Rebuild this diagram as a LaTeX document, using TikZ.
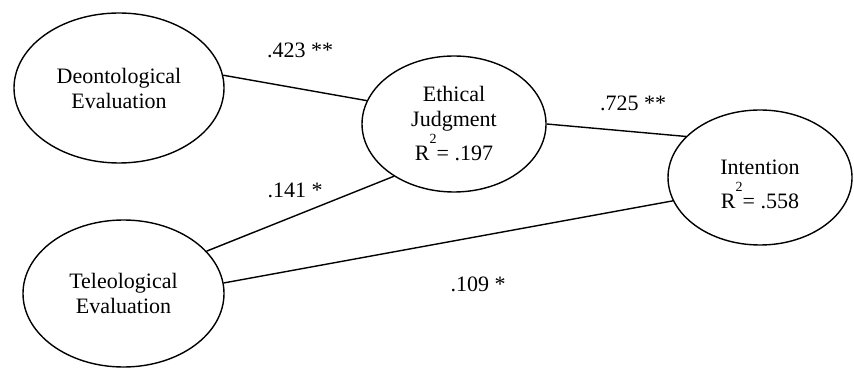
\documentclass[tikz,border=0pt]{standalone}
\usepackage{fontspec}
\setmainfont{Liberation Serif}
\usetikzlibrary{shapes.geometric}

\newcommand{\rsq}{R\smash{\raisebox{8.5pt}{\scriptsize 2}}}

\begin{document}
\begin{tikzpicture}[
        x=0.5pt, y=-0.5pt,
        every node/.style={align=center, font=\fontsize{11}{12.5}\selectfont},
        construct/.style={draw, ellipse, line width=0.7pt, inner sep=0pt},
        coef/.style={inner sep=0pt},
        path/.style={line width=0.7pt}
    ]
    \useasboundingbox (0,0) rectangle (854,368);

    % Nodes
    \node (deon) [construct, minimum width=105pt, minimum height=75pt] at (119,88) {Deontological\\Evaluation};
    \node (teleo) [construct, minimum width=100.5pt, minimum height=73.5pt] at (123.5,293.5) {Teleological\\Evaluation};
    \node (ethical) [construct, minimum width=92pt, minimum height=68pt] at (454,124) {Ethical\\Judgment\\[4.5pt]\rsq= .197};
    \node (intention) [construct, minimum width=92pt, minimum height=67.5pt] at (760,177.5) {\rule{0pt}{14pt}Intention\\[4.5pt]\rsq= .558};

    % Coefficients
    \node (c_deon) [coef] at (300,50) {.423 **};
    \node (c_ethical) [coef] at (633,103) {.725 **};
    \node (c_teleo) [coef] at (295,190) {.141 *};
    \node (c_direct) [coef] at (478,284) {.109 *};

    % Connections
    \draw[path] (deon.7) -- (ethical.165);
    \draw[path] (teleo.27.5) -- (ethical.221.4);
    \draw[path] (ethical.0) -- (intention.151.6);
    \draw[path] (teleo.6) -- (intention.195.8);

\end{tikzpicture}
\end{document}
